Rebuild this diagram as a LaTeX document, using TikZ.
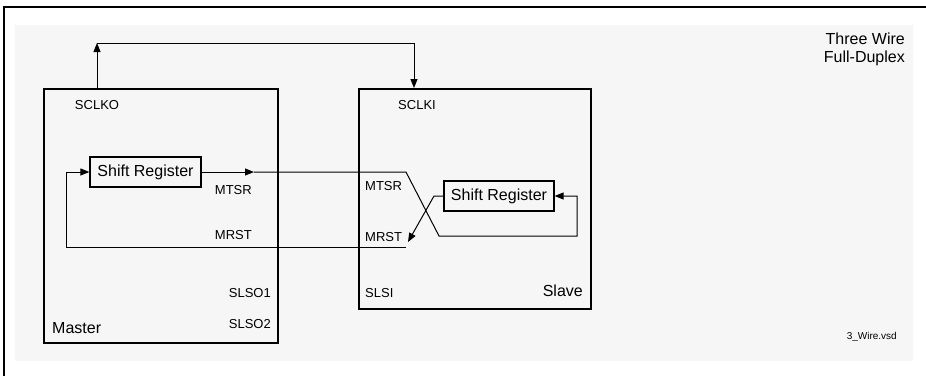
\documentclass[tikz,border=0pt]{standalone}
\usepackage{fontspec}
\setmainfont{Liberation Sans}
\usetikzlibrary{arrows.meta}
\definecolor{bggray}{HTML}{F6F6F6}
\begin{document}
\begin{tikzpicture}[x=1pt,y=-1pt,
  lbl/.style={inner sep=0pt,font=\fontsize{13}{15}\selectfont},
  big/.style={inner sep=0pt,font=\fontsize{16}{19}\selectfont},
  small/.style={inner sep=0pt,font=\fontsize{10}{12}\selectfont},
  unit/.style={draw,line width=2pt,inner sep=0pt},
  srbox/.style={draw,line width=1.2pt,minimum width=111pt,minimum height=30pt,inner sep=0pt,font=\fontsize{16}{19}\selectfont},
  wire/.style={line width=1pt},
  arr/.style={wire,-{Triangle[length=9pt,width=7pt]}}]
\useasboundingbox (0,0) rectangle (926,376);
\fill[bggray] (15,25) rectangle (913,361);
\draw[line width=1.3pt] (4,376) -- (4,7) -- (926,7);
% units
\node[unit,minimum width=234pt,minimum height=254pt] (master) at (161,216) {};
\node[unit,minimum width=232pt,minimum height=220pt] (slave) at (475,199) {};
\node[srbox] (msr) at (145.5,172) {Shift Register};
\node[srbox,minimum width=110pt] (ssr) at (499,196) {Shift Register};
% clock
\coordinate (ckm) at (97,43);
\coordinate (cks) at (414,43);
\draw[arr] (master.north -| ckm) -- (ckm);
\draw[arr] (ckm) -- (cks) -- (slave.north -| cks);
% MTSR
\coordinate (mt1) at (254,172);
\coordinate (mt2) at (406,172);
\coordinate (mt3) at (439,236);
\coordinate (mt4) at (577,236);
\draw[arr] (msr.east) -- (mt1);
\draw[arr] (mt1) -- (mt2) -- (mt3) -- (mt4) |- (ssr.east);
% MRST
\coordinate (mr1) at (434,196);
\coordinate (mr2) at (408,242);
\coordinate (mr3) at (406,247);
\coordinate (mr4) at (66,247);
\draw[arr] (ssr.west) -- (mr1) -- (mr2);
\draw[arr] (mr3) -- (mr4) |- (msr.west);
% labels
\node[lbl] (sclko) at (97,105) {SCLKO};
\node[lbl] (sclki) at (417,105) {SCLKI};
\node[lbl,anchor=east] (mmtsr) at (252,190) {MTSR};
\node[lbl,anchor=east] (mmrst) at (252,235) {MRST};
\node[lbl,anchor=east] (slso1) at (271,293) {SLSO1};
\node[lbl,anchor=east] (slso2) at (271,324) {SLSO2};
\node[big,anchor=west] (mname) at (52,328) {Master};
\node[lbl,anchor=west] (smtsr) at (365,186) {MTSR};
\node[lbl,anchor=west] (smrst) at (365,237) {MRST};
\node[lbl,anchor=west] (slsi) at (365,293) {SLSI};
\node[big,anchor=east] (sname) at (583,291) {Slave};
\node[big,anchor=north east,align=right,font=\fontsize{16}{18}\selectfont] (title) at (905,33) {Three Wire\\Full-Duplex};
\node[small,anchor=east] (file) at (897,337) {3\_Wire.vsd};
\end{tikzpicture}
\end{document}
